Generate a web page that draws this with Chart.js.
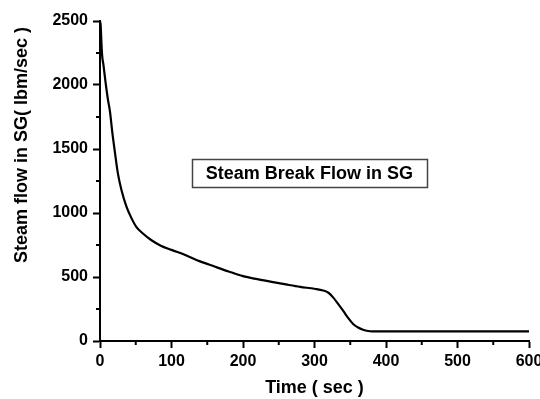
<!DOCTYPE html>
<html>
<head>
<meta charset="utf-8">
<script src="https://cdn.jsdelivr.net/npm/chart.js@4.4.0/dist/chart.umd.min.js"></script>
<style>
  html, body { margin: 0; padding: 0; background: #fff; }
  #wrap { width: 540px; height: 399px; }
</style>
</head>
<body>
<div id="wrap"><canvas id="chart" width="540" height="399"></canvas></div>
<script>
// valores
const times = [0, 1, 2, 3, 5, 8, 11, 14, 17, 20, 25, 30, 37, 44, 51, 60, 72, 85, 100, 120, 140, 160, 180, 200, 220, 240, 260, 280, 300, 312, 320, 326, 333, 340, 347, 354, 361, 368, 375, 380, 390, 600];
const flows = [2500, 2460, 2330, 2230, 2150, 2010, 1890, 1790, 1640, 1510, 1310, 1180, 1050, 960, 890, 840, 787, 745, 712, 670, 622, 582, 543, 507, 483, 462, 442, 423, 408, 395, 375, 341, 290, 237, 180, 133, 105, 88, 78, 75, 75, 75];
const xTicks = [0, 100, 200, 300, 400, 500, 600];
const yTicks = [0, 500, 1000, 1500, 2000, 2500];

const seriesLabel = 'Steam Break Flow in SG';
const xTitle = 'Time ( sec )';
const yTitle = 'Steam flow in SG( lbm/sec )';

const fontFamily = "'Liberation Sans', Arial, sans-serif";

// monta os pontos {x, y} para a escala linear
const points = times.map((t, i) => ({ x: t, y: flows[i] }));

// ticks menores entre os maiores
const minorTicks = {
    id: 'minorTicks',
    afterDraw(chart) {
        const ctx = chart.ctx;
        const xs = chart.scales.x, ys = chart.scales.y;
        ctx.save();
        ctx.strokeStyle = '#000';
        ctx.lineWidth = 2;
        for (let i = 0; i < xTicks.length - 1; i++) {
            const px = xs.getPixelForValue((xTicks[i] + xTicks[i + 1]) / 2);
            ctx.beginPath();
            ctx.moveTo(px, xs.top);
            ctx.lineTo(px, xs.top + 4);
            ctx.stroke();
        }
        for (let i = 0; i < yTicks.length - 1; i++) {
            const py = ys.getPixelForValue((yTicks[i] + yTicks[i + 1]) / 2);
            ctx.beginPath();
            ctx.moveTo(ys.right, py);
            ctx.lineTo(ys.right - 4, py);
            ctx.stroke();
        }
        ctx.restore();
    }
};

// título do eixo y, deslocado para cima como no original
const yTitlePlugin = {
    id: 'yTitlePlugin',
    afterDraw(chart) {
        const ctx = chart.ctx;
        ctx.save();
        ctx.translate(22, 145);
        ctx.rotate(-Math.PI / 2);
        ctx.font = 'bold 18px ' + fontFamily;
        ctx.fillStyle = '#000';
        ctx.textAlign = 'center';
        ctx.textBaseline = 'middle';
        ctx.fillText(yTitle, 0, 0);
        ctx.restore();
    }
};

// caixa da legenda dentro da área do gráfico
const boxLegend = {
    id: 'boxLegend',
    afterDraw(chart) {
        const ctx = chart.ctx;
        const a = chart.chartArea;
        const cx = a.left + (a.right - a.left) * 0.488;
        const cy = a.top + (a.bottom - a.top) * 0.476;
        const w = 235, h = 28;
        ctx.save();
        ctx.strokeStyle = '#444';
        ctx.lineWidth = 1.5;
        ctx.strokeRect(Math.round(cx - w / 2) + 0.5, Math.round(cy - h / 2) + 0.5, w, h);
        ctx.font = 'bold 18px ' + fontFamily;
        ctx.fillStyle = '#000';
        ctx.textAlign = 'center';
        ctx.textBaseline = 'middle';
        ctx.fillText(seriesLabel, cx, cy + 1);
        ctx.restore();
    }
};

const ctx = document.getElementById('chart').getContext('2d');
const chart = new Chart(ctx, {
    type: 'line',
    data: {
        datasets: [{
            label: seriesLabel,
            data: points,
            borderColor: '#000',
            borderWidth: 2.2,
            pointRadius: 0,
            fill: false,
            cubicInterpolationMode: 'monotone'
        }]
    },
    options: {
        responsive: false,
        animation: false,
        events: [],
        layout: {
            padding: { top: 21, right: 11, left: 0, bottom: 0 }
        },
        plugins: {
            legend: { display: false },
            tooltip: { enabled: false }
        },
        scales: {
            x: {
                type: 'linear',
                min: 0,
                max: 600,
                afterBuildTicks: (scale) => {
                    scale.ticks = xTicks.map(v => ({ value: v }));
                },
                afterFit: (scale) => {
                    scale.height = 58;
                    scale.paddingLeft = 0;
                    scale.paddingRight = 0;
                },
                border: { display: true, color: '#000', width: 2 },
                grid: {
                    display: true,
                    drawOnChartArea: false,
                    drawTicks: true,
                    tickLength: 7,
                    tickColor: '#000',
                    tickWidth: 2
                },
                ticks: {
                    color: '#000',
                    padding: 4,
                    maxRotation: 0,
                    autoSkip: false,
                    callback: (v) => String(v),
                    font: { family: fontFamily, size: 16, weight: 'bold' }
                },
                title: {
                    display: true,
                    text: xTitle,
                    color: '#000',
                    padding: { top: 0, bottom: 0 },
                    font: { family: fontFamily, size: 18, weight: 'bold' }
                }
            },
            y: {
                min: 0,
                max: 2500,
                afterBuildTicks: (scale) => {
                    scale.ticks = yTicks.map(v => ({ value: v }));
                },
                afterFit: (scale) => {
                    scale.width = 100;
                    scale.paddingTop = 0;
                    scale.paddingBottom = 0;
                },
                border: { display: true, color: '#000', width: 2 },
                grid: {
                    display: true,
                    drawOnChartArea: false,
                    drawTicks: true,
                    tickLength: 7,
                    tickColor: '#000',
                    tickWidth: 2
                },
                ticks: {
                    color: '#000',
                    padding: 5,
                    autoSkip: false,
                    callback: (v) => String(v),
                    font: { family: fontFamily, size: 16, weight: 'bold' }
                }
            }
        }
    },
    plugins: [minorTicks, yTitlePlugin, boxLegend]
});
</script>
</body>
</html>
